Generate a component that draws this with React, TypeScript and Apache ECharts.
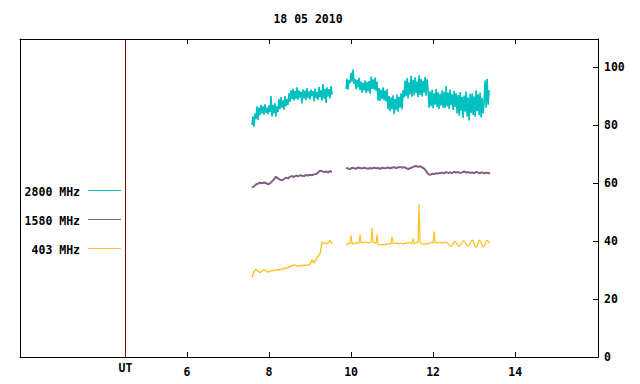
import React, { useEffect, useRef } from "react";
import * as echarts from "echarts";

const TITLE = "18 05 2010";
const X_TICKS = [6, 8, 10, 12, 14];
const X_LABELS = [6, 8, 10, 12, 14];
const Y_TICKS = [0, 20, 40, 60, 80, 100];
const UT_HOUR = 4.5;

const SERIES_NAMES = ["2800 MHz", "1580 MHz", "403 MHz"];
const SERIES_COLORS = ["#00c0c0", "#806080", "#ffc020"];

// sampling (hours)
const PX_HOUR = 1 / 41;
const SEG1_START = 7.585;
const SEG2_START = 9.878;

// 2800 MHz, one sample per ~1px
const teal1 = [
  80, 83, 79.5, 84, 82, 86.5, 81.8, 86, 83.5, 87, 84, 86.5, 83.6, 87.2, 84.2, 86, 83.8, 86.8, 84.5, 90,
  83, 87, 84, 87.6, 82.9, 86.5, 84.5, 89, 85.5, 89.7, 86, 88.5, 85.3, 90, 86.5, 89, 87, 91, 88, 92, 89,
  92.5, 88.5, 91.8, 89, 93, 88.8, 92, 89.5, 91.5, 87.5, 92.3, 89.2, 91.9, 88.6, 92.8, 89.4, 91.6, 88.9,
  92.2, 90, 91.7, 88.2, 92.6, 89.3, 91.4, 88.7, 93.2, 89.6, 92, 88.4, 94.2, 89.1, 92.5, 87.6, 93, 89.8,
  92.4, 89.2, 93.5, 90.5,
];
const teal2 = [
  92.5, 96, 92.2, 95.5, 94.5, 98, 95, 99.2, 94.2, 96, 92.4, 95.6, 93, 96.3, 92.1, 95, 91.2, 94.6, 92,
  95.4, 91, 94.8, 91.6, 95.2, 90.8, 96.7, 92.5, 95.8, 92.2, 96.4, 91.8, 95, 88.5, 92.8, 88.3, 92.2, 89,
  93, 88.6, 91.8, 88.2, 92.4, 85.5, 90, 84.8, 89.6, 85.5, 90.3, 83.8, 89, 85.2, 90.5, 84.6, 89.8, 86, 91,
  85.4, 92, 89.5, 95.4, 90, 96.2, 89.2, 94.8, 90.6, 97, 89.8, 95.6, 90.2, 96.5, 91, 95, 89.6, 97.2, 90.4,
  96, 89.9, 95.3, 91.2, 96.6, 90.1, 95.8, 92, 86, 91.6, 86.5, 92.2, 85.8, 91, 87, 92.4, 86.2, 91.3, 85.6,
  90.8, 86.8, 92, 86, 91.5, 85.9, 93.5, 86.4, 91.2, 85.5, 92.3, 86.9, 90.6, 85.2, 91.8, 86.3, 91, 84,
  90.4, 83.2, 91.4, 85, 89.8, 82.5, 90.2, 84.6, 91.6, 83, 89.5, 81.6, 90.8, 84.2, 91, 83.5, 89.9, 82.9,
  92, 84.8, 90.6, 83.4, 91.2, 82.6, 89.4, 84, 88, 95.5, 86, 96, 87, 92,
];

// 1580 MHz, one sample per ~2px
const purple1 = [
  58.5, 58.9, 59.5, 59.8, 60.1, 59.9, 60.2, 60, 59.6, 59.9, 60.6, 61.3, 62.2, 61.6, 61.2, 61, 61.4, 61.9,
  61.6, 62.2, 62.4, 62.1, 62.6, 62.3, 62.7, 62.5, 62.4, 62.8, 62.6, 62.9, 62.7, 63, 63.1, 63.6, 64.3,
  64.1, 63.8, 64, 63.7, 64.1, 63.9,
];
const purple2 = [
  65.2, 65, 64.8, 65.3, 65.1, 64.9, 65.4, 65.2, 65, 65.3, 65.1, 64.9, 65.2, 65, 65.3, 65.1, 65.2, 64.9,
  65.3, 65.1, 65.2, 65.4, 65.1, 65.3, 65.5, 65.2, 65.4, 65.6, 65.3, 65.5, 65.2, 64.8, 65.1, 65.4, 65.7,
  65.9, 65.6, 65.8, 65.4, 65.0, 64.2, 63.1, 62.8, 63.2, 63.1, 63.4, 63.3, 63.5, 63.6, 63.4, 63.8, 63.5,
  63.7, 63.4, 63.9, 63.6, 63.8, 63.5, 63.7, 64, 63.6, 63.8, 63.5, 63.7, 63.4, 63.9, 63.6, 63.5, 63.7,
  63.4, 63.6, 63.5, 63.3,
];

// 403 MHz: first part one sample per ~2px, second part one per ~1px
const yellow1 = [
  27.5, 29.5, 30.2, 29.8, 29.1, 29.6, 30.1, 29.7, 29.3, 29.6, 29.9, 29.8, 30, 30.2, 30.1, 30.4, 30.6,
  30.5, 30.9, 31.2, 31.5, 31.8, 31.5, 31.3, 31.6, 31.5, 31.7, 31.6, 31.8, 32, 33.5, 32.5, 33.6, 34.8,
  35.6, 39.5, 39.3, 39.1, 39.4, 40.2, 39,
];
const yellow2 = [
  38.8, 39.1, 39, 39.2, 39.1, 42, 39.2, 39, 39.3, 39.1, 39.4, 39.2, 39.5, 39.3, 42.2, 39.4, 39.6, 39.3,
  39.5, 39.7, 39.4, 39.6, 39.3, 39.5, 39.4, 39.6, 44.6, 39.5, 39.3, 39.4, 39.2, 42.2, 38.9, 38.6, 38.8,
  38.7, 38.9, 38.6, 38.8, 38.9, 38.7, 39, 39.1, 38.9, 39.2, 39, 41.6, 39.4, 39.2, 39.3, 39.1, 39.3, 39.2,
  39, 39.2, 39.3, 39.1, 38.9, 39.2, 39.1, 39.3, 39.2, 39.4, 39.3, 39.5, 39.2, 39.3, 40.9, 39.3, 39.1,
  39.4, 39.6, 39.5, 52.8, 39.6, 39.3, 39.1, 38.9, 39, 39.2, 38.9, 39.1, 39, 39.2, 39.3, 39.4, 39.5, 39.3,
  43.4, 39.4, 39.6, 39.5, 39.3, 39.4, 39.6, 39.4, 39.2, 39.3, 39.5, 39.7, 39.5, 39.3, 39, 38.6, 38.3,
  38.2, 38.5, 39.1, 39.7, 39.9, 39.6, 39, 38.5, 38.1, 38.4, 39, 39.6, 40.1, 40, 39.5, 38.9, 38.4, 38.2,
  38.6, 39.3, 40, 40.4, 40.1, 39.2, 38.2, 37.9, 38.4, 39.4, 40.3, 40.2, 39.3, 38.3, 37.9, 38.2, 39, 39.8,
  40.3, 40, 39.5, 39.2,
];

const toPairs = (vals: number[], start: number, step: number) =>
  vals.map((v, i) => [start + i * step, v]);

const FONT = "'DejaVu Sans Mono', monospace";

export default function App() {
  const ref = useRef<HTMLDivElement>(null);
  useEffect(() => {
    if (!ref.current) return;
    const chart = echarts.init(ref.current, undefined, { renderer: "svg" });
    const lineSeries = (name: string, color: string, width: number, data: number[][], extra: any = {}) => ({
      type: "line",
      name,
      data,
      xAxisIndex: 0,
      yAxisIndex: 0,
      showSymbol: false,
      symbol: "none",
      lineStyle: { color, width },
      itemStyle: { color },
      emphasis: { disabled: true },
      silent: true,
      ...extra,
    });
    const legendY = [190.5, 219.5, 248.5];
    const legendGraphics: any[] = [];
    SERIES_NAMES.forEach((n, i) => {
      legendGraphics.push({
        type: "text",
        x: 80,
        y: legendY[i] + 1,
        style: {
          text: n,
          font: `bold 11.5px ${FONT}`,
          fill: "#000",
          align: "right",
          verticalAlign: "middle",
        },
      });
      legendGraphics.push({
        type: "line",
        shape: { x1: 88, y1: legendY[i], x2: 121, y2: legendY[i] },
        style: { stroke: SERIES_COLORS[i], lineWidth: 1 },
      });
    });
    const axisLabelStyle = {
      fontFamily: FONT,
      fontWeight: "bold",
      fontSize: 11.5,
      color: "#000",
    };
    const xBase = {
      type: "value",
      min: 1.93,
      max: 16.02,
      splitLine: { show: false },
    };
    chart.setOption({
      animation: false,
      backgroundColor: "#fff",
      grid: { left: 20, right: 42, top: 39, bottom: 27, containLabel: false },
      xAxis: [
        {
          ...xBase,
          position: "bottom",
          axisLine: { show: true, onZero: false, lineStyle: { color: "#000", width: 1 } },
          axisTick: { show: true, inside: true, length: 5, customValues: X_TICKS, lineStyle: { color: "#000" } },
          axisLabel: { show: true, customValues: X_LABELS, margin: 9, ...axisLabelStyle },
        },
        {
          ...xBase,
          position: "top",
          axisLine: { show: true, onZero: false, lineStyle: { color: "#000", width: 1 } },
          axisTick: { show: true, inside: true, length: 5, customValues: X_TICKS, lineStyle: { color: "#000" } },
          axisLabel: { show: false },
        },
        {
          ...xBase,
          position: "bottom",
          axisLine: { show: false, onZero: false },
          axisTick: { show: false },
          axisLabel: {
            show: true,
            customValues: [UT_HOUR],
            margin: 5,
            ...axisLabelStyle,
            formatter: () => "UT",
          },
        },
      ],
      yAxis: [
        {
          type: "value",
          position: "right",
          min: 0,
          max: 109.7,
          splitLine: { show: false },
          axisLine: { show: true, onZero: false, lineStyle: { color: "#000", width: 1 } },
          axisTick: { show: true, inside: true, length: 5, customValues: Y_TICKS, lineStyle: { color: "#000" } },
          axisLabel: { show: true, customValues: Y_TICKS, margin: 6, ...axisLabelStyle },
        },
        {
          type: "value",
          position: "left",
          min: 0,
          max: 109.7,
          splitLine: { show: false },
          axisLine: { show: true, onZero: false, lineStyle: { color: "#000", width: 1 } },
          axisTick: { show: false },
          axisLabel: { show: false },
        },
      ],
      graphic: [
        {
          type: "text",
          x: 308,
          y: 19,
          style: {
            text: TITLE,
            font: `bold 11.5px ${FONT}`,
            fill: "#000",
            align: "center",
            verticalAlign: "middle",
          },
        },
        ...legendGraphics,
      ],
      series: [
        lineSeries(SERIES_NAMES[0], SERIES_COLORS[0], 1.6, toPairs(teal1, SEG1_START, PX_HOUR), {
          markLine: {
            silent: true,
            symbol: "none",
            label: { show: false },
            lineStyle: { color: "#800000", width: 1, type: "solid" },
            data: [{ xAxis: UT_HOUR }],
          },
        }),
        lineSeries(SERIES_NAMES[0], SERIES_COLORS[0], 1.6, toPairs(teal2, SEG2_START, PX_HOUR)),
        lineSeries(SERIES_NAMES[1], SERIES_COLORS[1], 2, toPairs(purple1, SEG1_START, 2 * PX_HOUR)),
        lineSeries(SERIES_NAMES[1], SERIES_COLORS[1], 2, toPairs(purple2, SEG2_START, 2 * PX_HOUR)),
        lineSeries(SERIES_NAMES[2], SERIES_COLORS[2], 1.4, toPairs(yellow1, SEG1_START, 2 * PX_HOUR)),
        lineSeries(SERIES_NAMES[2], SERIES_COLORS[2], 1.2, toPairs(yellow2, SEG2_START, PX_HOUR)),
      ],
    });
    return () => chart.dispose();
  }, []);
  return (
    <div
      ref={ref}
      style={{ position: "absolute", left: 0, top: 0, width: 640, height: 384 }}
    />
  );
}
